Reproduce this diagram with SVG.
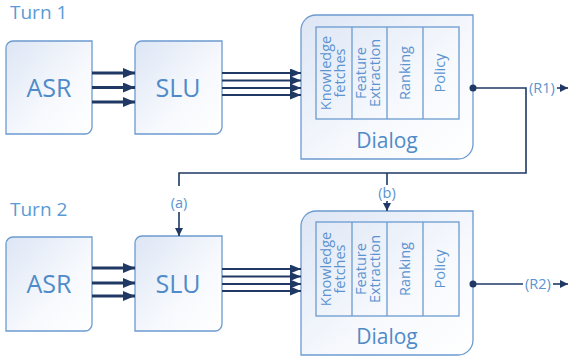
<svg xmlns="http://www.w3.org/2000/svg" width="568" height="356" viewBox="0 0 568 356">
<defs>
<linearGradient id="g" x1="0" y1="0" x2="1" y2="1">
<stop offset="0" stop-color="#dde6f5"/>
<stop offset="0.6" stop-color="#f7f9fd"/>
<stop offset="1" stop-color="#ffffff"/>
</linearGradient>
<marker id="big" markerUnits="userSpaceOnUse" viewBox="0 0 12 10" refX="12" refY="5" markerWidth="12" markerHeight="10" orient="auto">
<path d="M0,0 L12,5 L0,10 Z" fill="#1f3864"/>
</marker>
<marker id="med" markerUnits="userSpaceOnUse" viewBox="0 0 11 9" refX="11" refY="4.5" markerWidth="11" markerHeight="9" orient="auto">
<path d="M0,0 L11,4.5 L0,9 Z" fill="#1f3864"/>
</marker>
<marker id="sm" markerUnits="userSpaceOnUse" viewBox="0 0 8 8" refX="8" refY="4" markerWidth="8" markerHeight="8" orient="auto">
<path d="M0,0 L8,4 L0,8 Z" fill="#1f3864"/>
</marker>
</defs>
<style>
.box{fill:url(#g);stroke:#6b9bd0;stroke-width:1.3}
.inner{fill:none;stroke:#6b9bd0;stroke-width:1.3}
.t{font-family:"Open Sans","Noto Sans",sans-serif;fill:#4f8bc9}
.turn{font-size:19px;fill:#5b9bd5}
.big{font-size:25px;text-anchor:middle}
.dlg{font-size:21px;text-anchor:middle}
.col{font-size:14.5px;text-anchor:middle;fill:#5b93d0}
.lab{font-size:14.5px;text-anchor:middle;fill:#5b93d0}
.thick{stroke:#1f3864;stroke-width:3;fill:none;marker-end:url(#big)}
.mid{stroke:#1f3864;stroke-width:2;fill:none;marker-end:url(#med)}
.con{stroke:#1f3864;stroke-width:1.6;fill:none}
</style>

<text class="t turn" x="10" y="19">Turn 1</text>
<text class="t turn" x="10" y="216">Turn 2</text>

<g id="asr1">
<path class="box" d="M13,41 H92 V127 A7,7 0 0 1 85,134 H6 V48 A7,7 0 0 1 13,41 Z"/>
<text class="t big" x="49" y="97">ASR</text>
</g>
<g id="slu1">
<path class="box" d="M142,41 H222 V127 A7,7 0 0 1 215,134 H135 V48 A7,7 0 0 1 142,41 Z"/>
<text class="t big" x="178" y="97">SLU</text>
</g>
<g id="dialog1">
<path class="box" d="M316,15 H473 V144 A15,15 0 0 1 458,159 H301 V30 A15,15 0 0 1 316,15 Z"/>
<rect class="inner" x="316" y="27" width="143" height="92"/>
<path class="inner" d="M352,27 V119 M387,27 V119 M423,27 V119"/>
<text class="t col" transform="translate(331,73) rotate(-90)"><tspan x="0" y="0">Knowledge</tspan><tspan x="0" y="14">fetches</tspan></text>
<text class="t col" transform="translate(366,73) rotate(-90)"><tspan x="0" y="0">Feature</tspan><tspan x="0" y="14">Extraction</tspan></text>
<text class="t col" transform="translate(410,73) rotate(-90)">Ranking</text>
<text class="t col" transform="translate(445,73) rotate(-90)">Policy</text>
<text class="t dlg" x="387" y="148">Dialog</text>
</g>

<g id="asr2">
<path class="box" d="M13,237 H92 V324 A7,7 0 0 1 85,331 H6 V244 A7,7 0 0 1 13,237 Z"/>
<text class="t big" x="49" y="293">ASR</text>
</g>
<g id="slu2">
<path class="box" d="M142,236 H222 V324 A7,7 0 0 1 215,331 H135 V243 A7,7 0 0 1 142,236 Z"/>
<text class="t big" x="178" y="293">SLU</text>
</g>
<g id="dialog2">
<path class="box" d="M316,211 H473 V340 A15,15 0 0 1 458,355 H301 V226 A15,15 0 0 1 316,211 Z"/>
<rect class="inner" x="316" y="222" width="143" height="94"/>
<path class="inner" d="M352,222 V316 M387,222 V316 M423,222 V316"/>
<text class="t col" transform="translate(331,269) rotate(-90)"><tspan x="0" y="0">Knowledge</tspan><tspan x="0" y="14">fetches</tspan></text>
<text class="t col" transform="translate(366,269) rotate(-90)"><tspan x="0" y="0">Feature</tspan><tspan x="0" y="14">Extraction</tspan></text>
<text class="t col" transform="translate(410,269) rotate(-90)">Ranking</text>
<text class="t col" transform="translate(445,269) rotate(-90)">Policy</text>
<text class="t dlg" x="387" y="344">Dialog</text>
</g>

<g id="connectors">
<path class="thick" d="M92,73 H135"/>
<path class="thick" d="M92,87.5 H135"/>
<path class="thick" d="M92,102 H135"/>
<path class="mid" d="M222,73 H301"/>
<path class="mid" d="M222,80.5 H301"/>
<path class="mid" d="M222,88 H301"/>
<path class="mid" d="M222,95 H301"/>

<path class="thick" d="M92,268 H135"/>
<path class="thick" d="M92,283 H135"/>
<path class="thick" d="M92,296 H135"/>
<path class="mid" d="M222,269 H301"/>
<path class="mid" d="M222,276.5 H301"/>
<path class="mid" d="M222,284 H301"/>
<path class="mid" d="M222,291 H301"/>

<circle cx="473" cy="88" r="3.5" fill="#1f3864"/>
<path class="con" d="M473,88 H526 V173 H179 V186"/>
<path class="con" d="M179,212 V236" marker-end="url(#sm)"/>
<path class="con" d="M387,173 V185"/>
<path class="con" d="M387,201 V211" marker-end="url(#sm)"/>
<text class="t lab" x="179" y="208">(a)</text>
<text class="t lab" x="387" y="198">(b)</text>
<text class="t lab" x="542" y="93">(R1)</text>
<path class="con" d="M557,88 H568" marker-end="url(#sm)"/>

<circle cx="473" cy="284" r="3.5" fill="#1f3864"/>
<path class="con" d="M473,284 H523"/>
<text class="t lab" x="538" y="289">(R2)</text>
<path class="con" d="M553,284 H568" marker-end="url(#sm)"/>
</g>
</svg>
